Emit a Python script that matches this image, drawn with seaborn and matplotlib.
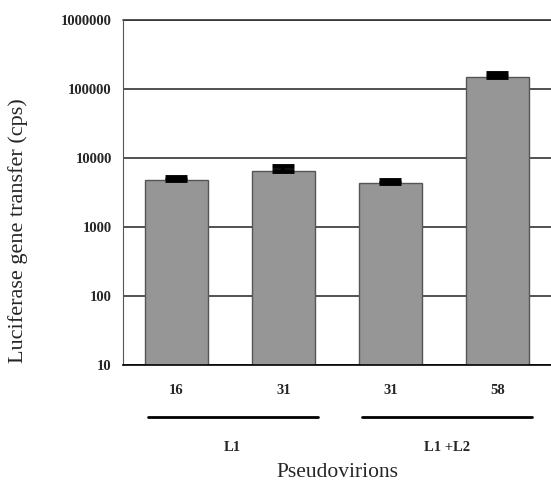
import matplotlib
matplotlib.use('Agg')
import matplotlib.pyplot as plt
import matplotlib.transforms as mtransforms
import seaborn as sns
import pandas as pd

# data
bar_ids = ['L1_16', 'L1_31', 'L1L2_31', 'L1L2_58']
tick_labels = ['16', '31', '31', '58']
values = [4750, 6500, 4350, 149000]
errors = [600, 1100, 500, 20000]
groups = ['L1', 'L1 +L2']
group_members = [[0, 1], [2, 3]]

df = pd.DataFrame({'id': bar_ids, 'value': values})

sns.set_style('white')
plt.rcParams['font.family'] = ['Liberation Serif', 'DejaVu Serif']

fig = plt.figure(figsize=(5.51, 4.84), dpi=100)
ax = fig.add_axes([0.2232, 0.2459, 0.7768, 0.7128])
ax.set_yscale('log')

sns.barplot(data=df, x='id', y='value', order=bar_ids, color='#969696',
            width=0.59, edgecolor='#555555', linewidth=1, saturation=1, ax=ax)

# error bars, upper side only
ax.errorbar(range(len(values)), values, yerr=[[0] * len(values), errors],
            fmt='none', ecolor='black', elinewidth=3, capsize=8, capthick=3.5)

ax.set_ylim(10, 1000000)
ax.set_xlim(-0.5, len(values) - 0.5)
ax.set_yticks([10, 100, 1000, 10000, 100000, 1000000])
ax.set_yticklabels(['10', '100', '1000', '10000', '100000', '1000000'],
                   fontweight='bold', fontsize=10.5)
ax.yaxis.set_minor_locator(matplotlib.ticker.NullLocator())
ax.grid(axis='y', which='major', color='#333333', linewidth=1.2)
ax.set_axisbelow(True)
ax.axhline(1000000, color='#333333', linewidth=1.2, clip_on=False, zorder=0.5)

ax.set_xticks(range(len(values)))
ax.set_xticklabels(tick_labels, fontweight='bold', fontsize=10.5)
ax.set_xticks([i - 0.5 for i in range(len(values) + 1)], minor=True)
ax.tick_params(axis='x', which='major', length=0, pad=14)
ax.tick_params(axis='x', which='minor', length=5, direction='out', color='black')
ax.tick_params(axis='y', which='major', length=5, direction='out', color='#555555', pad=3)

for s in ['top', 'right']:
    ax.spines[s].set_visible(False)
ax.spines['left'].set_color('#555555')
ax.spines['bottom'].set_color('black')
ax.spines['bottom'].set_linewidth(1.2)

ax.set_xlabel('Pseudovirions', fontsize=15.5, va='center')
ax.xaxis.set_label_coords(0.5, -0.312)
ax.set_ylabel('Luciferase gene transfer (cps)', fontsize=16, va='center', ha='center')
ax.yaxis.set_label_coords(-0.245, 0.39)

# group brackets under the ticks
trans = mtransforms.blended_transform_factory(ax.transData, ax.transAxes)
for name, members in zip(groups, group_members):
    x0 = min(members) - 0.27
    x1 = max(members) + 0.32
    ax.plot([x0, x1], [-0.151, -0.151], color='black', linewidth=2,
            transform=trans, clip_on=False)
    ax.text((x0 + x1) / 2, -0.24, name, transform=trans, ha='center',
            va='center', fontsize=10.5, fontweight='bold')

fig.savefig('out.png', dpi=100)
